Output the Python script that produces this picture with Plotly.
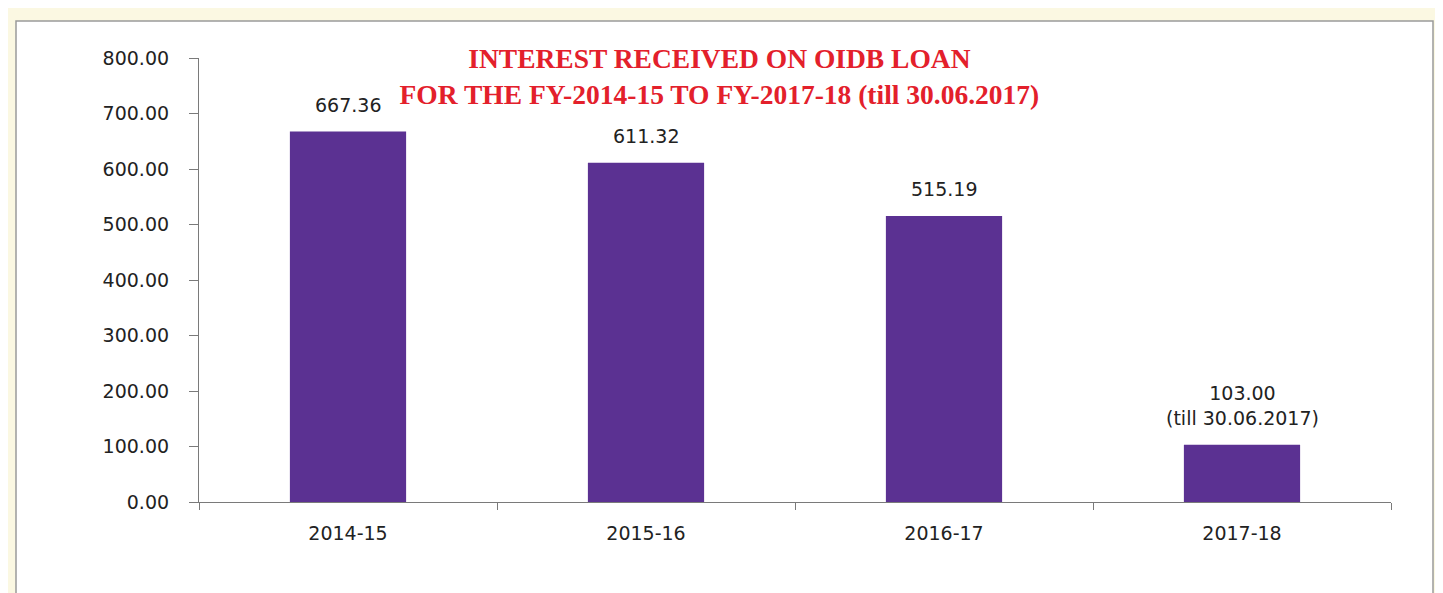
import plotly.graph_objects as go

categories = ["2014-15", "2015-16", "2016-17", "2017-18"]
values = [667.36, 611.32, 515.19, 103.00]
bar_labels = ["667.36", "611.32", "515.19", "103.00<br>(till 30.06.2017)"]
y_ticks = [0, 100, 200, 300, 400, 500, 600, 700, 800]

L, R, T, B = 191, 60, 50, 99
W, H = 1443, 593
pw, ph = W - L - R, H - T - B

fig = go.Figure()
fig.add_trace(go.Bar(
    x=categories, y=values, width=0.39,
    marker=dict(color="#5b3192", line=dict(width=0)),
))
for c, v, t in zip(categories, values, bar_labels):
    fig.add_annotation(x=c, y=v, text=t, showarrow=False, yanchor="bottom",
                       yshift=14, font=dict(family="DejaVu Sans", size=19, color="#222222"))

fig.update_layout(
    width=W, height=H,
    paper_bgcolor="#fbf8e2", plot_bgcolor="rgba(0,0,0,0)",
    margin=dict(l=L, r=R, t=T, b=B),
    showlegend=False,
    title=dict(
        text="INTEREST RECEIVED ON OIDB LOAN<br>FOR THE FY-2014-15 TO FY-2017-18 (till 30.06.2017)",
        x=0.493, xanchor="center", y=1 - 60 / H, yanchor="middle",
        font=dict(family="Liberation Serif", size=27.5, color="#e3202b", weight="bold"),
    ),
    shapes=[dict(type="rect", xref="paper", yref="paper",
                 x0=(8 - L) / pw, x1=(1425 - L) / pw,
                 y0=(H - B - 588) / ph, y1=(H - B - 13) / ph,
                 fillcolor="white", line=dict(color="#9a9a9a", width=1.5), layer="below")],
)
fig.update_xaxes(
    showline=True, linecolor="#7a7a7a", linewidth=1.2,
    ticks="outside", tickson="boundaries", ticklen=7, tickcolor="#7a7a7a",
    tickfont=dict(family="DejaVu Sans", size=19, color="#222222"),
    ticklabelstandoff=14,
    showgrid=False,
)
fig.update_yaxes(
    range=[0, 800], tickvals=y_ticks, tickformat=".2f",
    showline=True, linecolor="#7a7a7a", linewidth=1.2,
    ticks="outside", ticklen=9, tickcolor="#7a7a7a",
    tickfont=dict(family="DejaVu Sans", size=19, color="#222222"),
    ticklabelstandoff=16,
    showgrid=False, zeroline=False,
)

fig.write_html("out.html")
